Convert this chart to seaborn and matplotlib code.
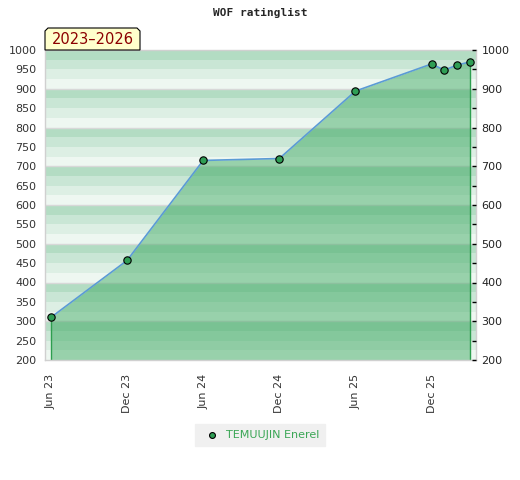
import pandas as pd
import matplotlib
matplotlib.use('Agg')
import matplotlib.pyplot as plt
from matplotlib.patches import Polygon
import seaborn as sns

months = ['2023-06', '2023-12', '2024-06', '2024-12', '2025-06',
          '2025-12', '2026-01', '2026-02', '2026-03']
ratings = [310, 457, 715, 720, 894, 964, 948, 961, 969]
tick_labels = ['Jun 23', 'Dec 23', 'Jun 24', 'Dec 24', 'Jun 25', 'Dec 25']
player = 'TEMUUJIN Enerel'
period = '2023\u20132026'

per = pd.PeriodIndex(months, freq='M')
df = pd.DataFrame({'month': [(p - per[0]).n for p in per], 'rating': ratings})

sns.set_style('white')
W, H = 520, 480
fig = plt.figure(figsize=(W / 100, H / 100), dpi=100)
ax = fig.add_axes([45 / W, 1 - 360 / H, (476 - 45) / W, (360 - 50) / H])

# striped background, 4 stripes per 100
stripes = ['#eef7f1', '#ddefe4', '#c9e6d5', '#b3dcc3']
for base in range(200, 1000, 100):
    for k, c in enumerate(stripes):
        ax.axhspan(base + 25 * k, base + 25 * (k + 1), color=c, lw=0, zorder=0)
for yv in range(300, 1000, 100):
    ax.axhline(yv, color='#d8d8d8', lw=1, zorder=0.5)

ax.fill_between(df['month'], df['rating'], 200, color='#39a75e', alpha=0.475, lw=0, zorder=1)
ax.vlines([df['month'].iloc[0], df['month'].iloc[-1]], 200,
          [df['rating'].iloc[0], df['rating'].iloc[-1]], color='#2e9e4f', lw=1, zorder=2)
sns.lineplot(data=df, x='month', y='rating', color='#5b9bd5', lw=1.2, ax=ax, zorder=3)
sns.scatterplot(data=df, x='month', y='rating', color='#2f9e55', edgecolor='black',
                s=28, linewidth=0.8, ax=ax, zorder=4, label=player)
ax.get_legend().remove()

ax.set_xlim(-0.47, 33.5)
ax.set_ylim(200, 1000)
ax.set_xticks(range(0, 31, 6))
ax.set_xticklabels(tick_labels, rotation=90)
ax.set_yticks(range(200, 1001, 50))
ax.tick_params(axis='both', length=0, labelsize=8, labelcolor='#333333')
ax.tick_params(axis='x', pad=10)
ax.tick_params(axis='y', pad=6)
ax.set_xlabel('')
ax.set_ylabel('')
for s in ax.spines.values():
    s.set_color('#d0d0d0')
    s.set_linewidth(1)

ax2 = ax.twinx()
ax2.set_ylim(200, 1000)
ax2.set_yticks(range(200, 1001, 100))
ax2.set_yticks(range(250, 1000, 100), minor=True)
ax2.tick_params(axis='y', which='both', direction='in', length=3, width=1,
                color='black', labelsize=8, labelcolor='#222222', pad=4)
for s in ax2.spines.values():
    s.set_visible(False)

fig.text(0.5, 1 - 13 / H, 'WOF ratinglist', family='DejaVu Sans Mono',
         weight='bold', fontsize=8, ha='center', va='center')

pts = [(45, 50), (45, 31), (48, 28), (137, 28), (140, 31), (140, 50)]
fig.patches.append(Polygon([(x / W, 1 - y / H) for x, y in pts], closed=True,
                           transform=fig.transFigure, facecolor='#ffffcc',
                           edgecolor='black', lw=0.8, zorder=5))
fig.text(92.5 / W, 1 - 40 / H, period, color='#8b0000', fontsize=10.5,
         ha='center', va='center', zorder=6)

handles, labels = ax.get_legend_handles_labels()
fig.legend(handles, labels, loc='center', bbox_to_anchor=(260 / W, 1 - 435 / H),
           facecolor='#f0f0f0', edgecolor='#f0f0f0', fancybox=False, framealpha=1,
           labelcolor='#3aa655', fontsize=8, handletextpad=0.3, borderpad=0.5,
           markerscale=0.8)

fig.savefig('out.png', dpi=100)
